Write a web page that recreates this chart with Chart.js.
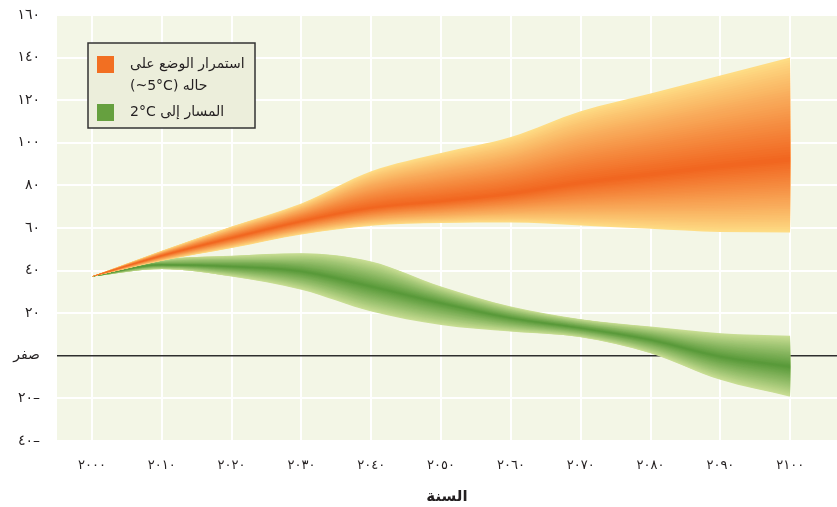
<!DOCTYPE html>
<html>
<head>
<meta charset="utf-8">
<script src="https://cdn.jsdelivr.net/npm/chart.js@4"></script>
<style>
  html, body { margin: 0; padding: 0; background: #ffffff; }
  canvas { display: block; }
</style>
</head>
<body>
<canvas id="chart" width="837" height="507"></canvas>
<script>
// Projection years (decades)
const years = [2000, 2010, 2020, 2030, 2040, 2050, 2060, 2070, 2080, 2090, 2100];

// Business-as-usual (~5°C) range: lower edge, central path, upper edge
const bauLow  = [37.2, 44.6, 50.6, 57.0, 61.1, 62.3, 62.6, 61.2, 59.6, 58.1, 57.9];
const bauMid  = [37.2, 47.0, 55.3, 63.1, 69.4, 72.5, 76.0, 81.1, 85.0, 88.9, 92.1];
const bauHigh = [37.2, 49.3, 60.7, 71.5, 86.6, 95.2, 102.7, 114.8, 123.2, 131.6, 140.0];

// Pathway to 2°C: lower edge, central path, upper edge
const pathLow  = [37.2, 40.7, 37.2, 31.0, 20.8, 14.5, 11.4, 8.7, 1.2, -11.3, -19.2];
const pathMid  = [37.2, 42.7, 41.9, 39.6, 32.5, 24.7, 17.7, 13.0, 7.5, -0.4, -5.1];
const pathHigh = [37.2, 45.1, 47.0, 48.2, 44.3, 32.5, 23.1, 17.2, 13.7, 10.6, 9.4];

// Axis ticks and their labels
const xTickValues = [2000, 2010, 2020, 2030, 2040, 2050, 2060, 2070, 2080, 2090, 2100];
const xTickLabels = ['٢٠٠٠', '٢٠١٠', '٢٠٢٠', '٢٠٣٠', '٢٠٤٠', '٢٠٥٠', '٢٠٦٠', '٢٠٧٠', '٢٠٨٠', '٢٠٩٠', '٢١٠٠'];
const yTickValues = [-40, -20, 0, 20, 40, 60, 80, 100, 120, 140, 160];
const yTickLabels = ['٤٠–', '٢٠–', 'صفر', '٢٠', '٤٠', '٦٠', '٨٠', '١٠٠', '١٢٠', '١٤٠', '١٦٠'];

const xTitle = 'السنة';
const legendItems = [
  { color: '#f26f22', lines: ['استمرار الوضع على', '(~5°C) حاله'] },
  { color: '#66a03f', lines: ['2°C المسار إلى'] }
];

const FONT = '"DejaVu Sans", sans-serif';
const TEXT = '#231f20';

function mix(a, b, t) {
  const c = a.map((v, i) => Math.round(v + (b[i] - v) * t));
  return `rgb(${c[0]},${c[1]},${c[2]})`;
}

// A shaded band: nested fills that narrow toward the central path and darken as they do
function bandLayers(lo, mid, hi, edge, core, steps, gamma) {
  const sets = [];
  for (let k = steps - 1; k >= 0; k--) {
    const f = k / steps;
    const lower = years.map((yr, i) => ({ x: yr, y: lo[i] + (mid[i] - lo[i]) * f }));
    const upper = years.map((yr, i) => ({ x: yr, y: hi[i] + (mid[i] - hi[i]) * f }));
    const t = Math.pow((k + 0.5) / steps, gamma);
    sets.push({ data: lower, fill: false });
    sets.push({ data: upper, fill: '-1', backgroundColor: mix(edge, core, t) });
  }
  return sets;
}

const datasets = [
  ...bandLayers(bauLow, bauMid, bauHigh, [254, 222, 134], [241, 101, 31], 40, 0.9),
  ...bandLayers(pathLow, pathMid, pathHigh, [203, 223, 150], [88, 153, 57], 40, 0.95)
];

const panelBackground = {
  id: 'panelBackground',
  beforeDraw(chart) {
    const { ctx, chartArea: a } = chart;
    ctx.save();
    ctx.fillStyle = '#f3f6e6';
    ctx.fillRect(a.left, a.top, a.right - a.left, a.bottom - a.top);
    ctx.restore();
  }
};

const boxedLegend = {
  id: 'boxedLegend',
  afterDraw(chart) {
    const { ctx, chartArea: a } = chart;
    const left = a.left + 31, top = a.top + 28, w = 167, h = 85;
    ctx.save();
    ctx.fillStyle = '#eceedb';
    ctx.fillRect(left, top, w, h);
    ctx.strokeStyle = '#333333';
    ctx.lineWidth = 1.5;
    ctx.strokeRect(left, top, w, h);
    ctx.font = '14px ' + FONT;
    ctx.textBaseline = 'middle';
    ctx.textAlign = 'left';
    let y = top + 21;
    legendItems.forEach((item) => {
      ctx.fillStyle = item.color;
      ctx.fillRect(left + 9, y - 8, 17, 17);
      ctx.fillStyle = TEXT;
      item.lines.forEach((line, j) => {
        ctx.fillText(line, left + 42, y + j * 22);
      });
      y += item.lines.length * 22 + 4;
    });
    ctx.restore();
  }
};

new Chart(document.getElementById('chart'), {
  type: 'line',
  data: { datasets },
  options: {
    responsive: false,
    animation: false,
    devicePixelRatio: 1,
    layout: { padding: { top: 15, right: 0, left: 0, bottom: 0 } },
    elements: {
      point: { radius: 0, hoverRadius: 0 },
      line: { borderWidth: 0, borderColor: 'transparent', cubicInterpolationMode: 'monotone' }
    },
    plugins: { legend: { display: false }, tooltip: { enabled: false } },
    scales: {
      x: {
        type: 'linear',
        min: 1995,
        max: 2106.7,
        afterBuildTicks(scale) { scale.ticks = xTickValues.map(v => ({ value: v })); },
        afterFit(scale) { scale.height = 66; scale.paddingLeft = 0; scale.paddingRight = 0; },
        grid: { color: '#ffffff', lineWidth: 2, drawTicks: false },
        border: { display: false },
        ticks: {
          padding: 17,
          color: TEXT,
          font: { family: FONT, size: 13 },
          maxRotation: 0,
          callback: (v) => xTickLabels[xTickValues.indexOf(v)]
        },
        title: {
          display: true,
          text: xTitle,
          color: TEXT,
          font: { family: FONT, size: 15, weight: 'bold' },
          padding: { top: 0, bottom: 1 }
        }
      },
      y: {
        type: 'linear',
        min: -40,
        max: 160,
        afterBuildTicks(scale) { scale.ticks = yTickValues.map(v => ({ value: v })); },
        afterFit(scale) { scale.width = 57; scale.paddingTop = 0; scale.paddingBottom = 0; },
        grid: {
          drawTicks: false,
          color: (c) => (c.tick && c.tick.value === 0 ? '#2e2e2e' : '#ffffff'),
          lineWidth: (c) => (c.tick && c.tick.value === 0 ? 1.5 : 2)
        },
        border: { display: false },
        ticks: {
          padding: 17,
          color: TEXT,
          font: { family: FONT, size: 14 },
          callback: (v) => yTickLabels[yTickValues.indexOf(v)]
        }
      }
    }
  },
  plugins: [panelBackground, boxedLegend]
});
</script>
</body>
</html>
